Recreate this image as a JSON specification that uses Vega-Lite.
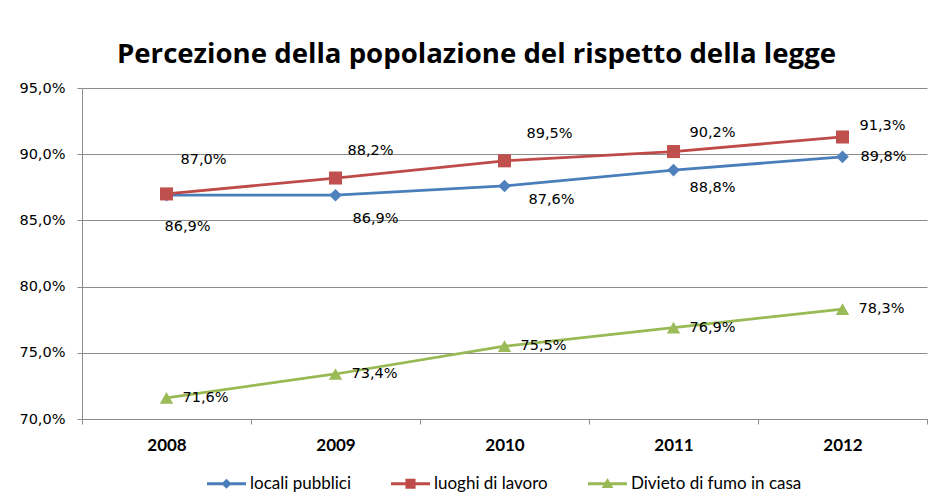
{
  "$schema": "https://vega.github.io/schema/vega-lite/v6.json",
  "width": 845,
  "height": 331,
  "autosize": "none",
  "padding": {"left": 82, "top": 88, "right": 10, "bottom": 83},
  "background": "white",
  "title": {
    "text": "Percezione della popolazione del rispetto della legge",
    "font": "Open Sans",
    "fontSize": 27.6,
    "fontWeight": "bold",
    "color": "#000000",
    "anchor": "middle",
    "dx": -28,
    "baseline": "alphabetic",
    "offset": -11
  },
  "data": {
    "values": [
      {"year": "2008", "series": "locali pubblici", "value": 0.869},
      {"year": "2009", "series": "locali pubblici", "value": 0.869},
      {"year": "2010", "series": "locali pubblici", "value": 0.876},
      {"year": "2011", "series": "locali pubblici", "value": 0.888},
      {"year": "2012", "series": "locali pubblici", "value": 0.898},
      {"year": "2008", "series": "luoghi di lavoro", "value": 0.870},
      {"year": "2009", "series": "luoghi di lavoro", "value": 0.882},
      {"year": "2010", "series": "luoghi di lavoro", "value": 0.895},
      {"year": "2011", "series": "luoghi di lavoro", "value": 0.902},
      {"year": "2012", "series": "luoghi di lavoro", "value": 0.913},
      {"year": "2008", "series": "Divieto di fumo in casa", "value": 0.716},
      {"year": "2009", "series": "Divieto di fumo in casa", "value": 0.734},
      {"year": "2010", "series": "Divieto di fumo in casa", "value": 0.755},
      {"year": "2011", "series": "Divieto di fumo in casa", "value": 0.769},
      {"year": "2012", "series": "Divieto di fumo in casa", "value": 0.783}
    ]
  },
  "encoding": {
    "x": {
      "field": "year",
      "type": "ordinal",
      "scale": {"type": "band", "paddingInner": 0, "paddingOuter": 0},
      "axis": {
        "title": null,
        "labelAngle": 0,
        "labelFont": "Lato",
        "labelFontSize": 17,
        "labelFontWeight": "bold",
        "labelColor": "#000000",
        "labelPadding": 13,
        "tickSize": 5,
        "tickBand": "extent",
        "tickColor": "#8c8c8c",
        "domainColor": "#8c8c8c",
        "grid": false
      }
    },
    "y": {
      "field": "value",
      "type": "quantitative",
      "scale": {"domain": [0.7, 0.95], "nice": false, "zero": false},
      "axis": {
        "title": null,
        "values": [0.7, 0.75, 0.8, 0.85, 0.9, 0.95],
        "format": ".1%",
        "labelFont": "DejaVu Sans",
        "labelFontSize": 14.5,
        "labelColor": "#000000",
        "labelPadding": 12,
        "tickSize": 5,
        "tickColor": "#8c8c8c",
        "domainColor": "#8c8c8c",
        "grid": true,
        "gridColor": "#8c8c8c"
      }
    }
  },
  "layer": [
    {
      "mark": {"type": "line", "strokeWidth": 2.75},
      "encoding": {
        "color": {
          "field": "series",
          "type": "nominal",
          "scale": {"domain": ["locali pubblici", "luoghi di lavoro", "Divieto di fumo in casa"], "range": ["#4A7EBB", "#BE4B48", "#98B954"]},
          "legend": null
        }
      }
    },
    {
      "mark": {"type": "point", "filled": true, "opacity": 1, "strokeWidth": 0},
      "encoding": {
        "color": {
          "field": "series",
          "type": "nominal",
          "scale": {"domain": ["locali pubblici", "luoghi di lavoro", "Divieto di fumo in casa"], "range": ["#4F81BD", "#C0504D", "#9BBB59"]},
          "legend": null
        },
        "shape": {
          "field": "series",
          "type": "nominal",
          "scale": {"domain": ["locali pubblici", "luoghi di lavoro", "Divieto di fumo in casa"], "range": ["diamond", "square", "triangle-up"]},
          "legend": null
        },
        "size": {
          "field": "series",
          "type": "nominal",
          "scale": {"domain": ["locali pubblici", "luoghi di lavoro", "Divieto di fumo in casa"], "range": [160, 180, 200]},
          "legend": null
        }
      }
    },
    {
      "transform": [{"filter": "false"}],
      "mark": {"type": "point", "filled": true, "opacity": 1, "strokeWidth": 0},
      "encoding": {
        "color": {
          "field": "series",
          "type": "nominal",
          "scale": {"domain": ["locali pubblici", "luoghi di lavoro", "Divieto di fumo in casa"], "range": ["#4A7EBB", "#BE4B48", "#98B954"]},
          "legend": {
            "title": null,
            "orient": "bottom",
            "direction": "horizontal",
            "offset": 11,
            "labelFont": "Lato",
            "labelFontSize": 17,
            "labelColor": "#000000",
            "labelOffset": 4,
            "labelLimit": 400,
            "columnPadding": 40,
            "symbolSize": 1521,
            "symbolStrokeWidth": 0
          }
        },
        "shape": {
          "field": "series",
          "type": "nominal",
          "scale": {
            "domain": ["locali pubblici", "luoghi di lavoro", "Divieto di fumo in casa"],
            "range": [
              "M-1,-0.077H1V0.077H-1Z M-0.26,0L0,-0.26L0.26,0L0,0.26Z",
              "M-1,-0.077H1V0.077H-1Z M-0.26,-0.26H0.26V0.26H-0.26Z",
              "M-1,-0.077H1V0.077H-1Z M0,-0.3L0.3,0.22H-0.3Z"
            ]
          },
          "legend": {
            "title": null,
            "orient": "bottom",
            "direction": "horizontal",
            "offset": 11,
            "labelFont": "Lato",
            "labelFontSize": 17,
            "labelColor": "#000000",
            "labelOffset": 4,
            "labelLimit": 400,
            "columnPadding": 40,
            "symbolSize": 1521,
            "symbolStrokeWidth": 0
          }
        }
      }
    },
    {
      "transform": [{"filter": "datum.series === 'Divieto di fumo in casa'"}],
      "mark": {"type": "text", "font": "DejaVu Sans", "fontSize": 14.5, "color": "#000000", "dx": 39, "dy": 0, "baseline": "middle"},
      "encoding": {"text": {"field": "value", "type": "quantitative", "format": ".1%"}}
    },
    {
      "transform": [{"filter": "datum.series === 'locali pubblici' && datum.year === '2008'"}],
      "mark": {"type": "text", "font": "DejaVu Sans", "fontSize": 14.5, "color": "#000000", "dx": 21, "dy": 32, "baseline": "middle"},
      "encoding": {"text": {"field": "value", "type": "quantitative", "format": ".1%"}}
    },
    {
      "transform": [{"filter": "datum.series === 'locali pubblici' && datum.year === '2009'"}],
      "mark": {"type": "text", "font": "DejaVu Sans", "fontSize": 14.5, "color": "#000000", "dx": 40, "dy": 24, "baseline": "middle"},
      "encoding": {"text": {"field": "value", "type": "quantitative", "format": ".1%"}}
    },
    {
      "transform": [{"filter": "datum.series === 'locali pubblici' && datum.year === '2010'"}],
      "mark": {"type": "text", "font": "DejaVu Sans", "fontSize": 14.5, "color": "#000000", "dx": 47, "dy": 14, "baseline": "middle"},
      "encoding": {"text": {"field": "value", "type": "quantitative", "format": ".1%"}}
    },
    {
      "transform": [{"filter": "datum.series === 'locali pubblici' && datum.year === '2011'"}],
      "mark": {"type": "text", "font": "DejaVu Sans", "fontSize": 14.5, "color": "#000000", "dx": 39, "dy": 18, "baseline": "middle"},
      "encoding": {"text": {"field": "value", "type": "quantitative", "format": ".1%"}}
    },
    {
      "transform": [{"filter": "datum.series === 'locali pubblici' && datum.year === '2012'"}],
      "mark": {"type": "text", "font": "DejaVu Sans", "fontSize": 14.5, "color": "#000000", "dx": 41, "dy": 0, "baseline": "middle"},
      "encoding": {"text": {"field": "value", "type": "quantitative", "format": ".1%"}}
    },
    {
      "transform": [{"filter": "datum.series === 'luoghi di lavoro' && datum.year === '2008'"}],
      "mark": {"type": "text", "font": "DejaVu Sans", "fontSize": 14.5, "color": "#000000", "dx": 37, "dy": -34, "baseline": "middle"},
      "encoding": {"text": {"field": "value", "type": "quantitative", "format": ".1%"}}
    },
    {
      "transform": [{"filter": "datum.series === 'luoghi di lavoro' && datum.year === '2009'"}],
      "mark": {"type": "text", "font": "DejaVu Sans", "fontSize": 14.5, "color": "#000000", "dx": 35, "dy": -27, "baseline": "middle"},
      "encoding": {"text": {"field": "value", "type": "quantitative", "format": ".1%"}}
    },
    {
      "transform": [{"filter": "datum.series === 'luoghi di lavoro' && datum.year === '2010'"}],
      "mark": {"type": "text", "font": "DejaVu Sans", "fontSize": 14.5, "color": "#000000", "dx": 45, "dy": -27, "baseline": "middle"},
      "encoding": {"text": {"field": "value", "type": "quantitative", "format": ".1%"}}
    },
    {
      "transform": [{"filter": "datum.series === 'luoghi di lavoro' && datum.year === '2011'"}],
      "mark": {"type": "text", "font": "DejaVu Sans", "fontSize": 14.5, "color": "#000000", "dx": 39, "dy": -19, "baseline": "middle"},
      "encoding": {"text": {"field": "value", "type": "quantitative", "format": ".1%"}}
    },
    {
      "transform": [{"filter": "datum.series === 'luoghi di lavoro' && datum.year === '2012'"}],
      "mark": {"type": "text", "font": "DejaVu Sans", "fontSize": 14.5, "color": "#000000", "dx": 40, "dy": -11, "baseline": "middle"},
      "encoding": {"text": {"field": "value", "type": "quantitative", "format": ".1%"}}
    }
  ],
  "resolve": {
    "scale": {"color": "independent", "shape": "independent", "size": "independent"},
    "legend": {"color": "independent", "shape": "independent"}
  },
  "config": {
    "view": {"stroke": null},
    "locale": {"number": {"decimal": ",", "thousands": ".", "grouping": [3], "currency": ["", " €"]}},
    "legend": {"layout": {"bottom": {"anchor": "middle"}}}
  }
}
